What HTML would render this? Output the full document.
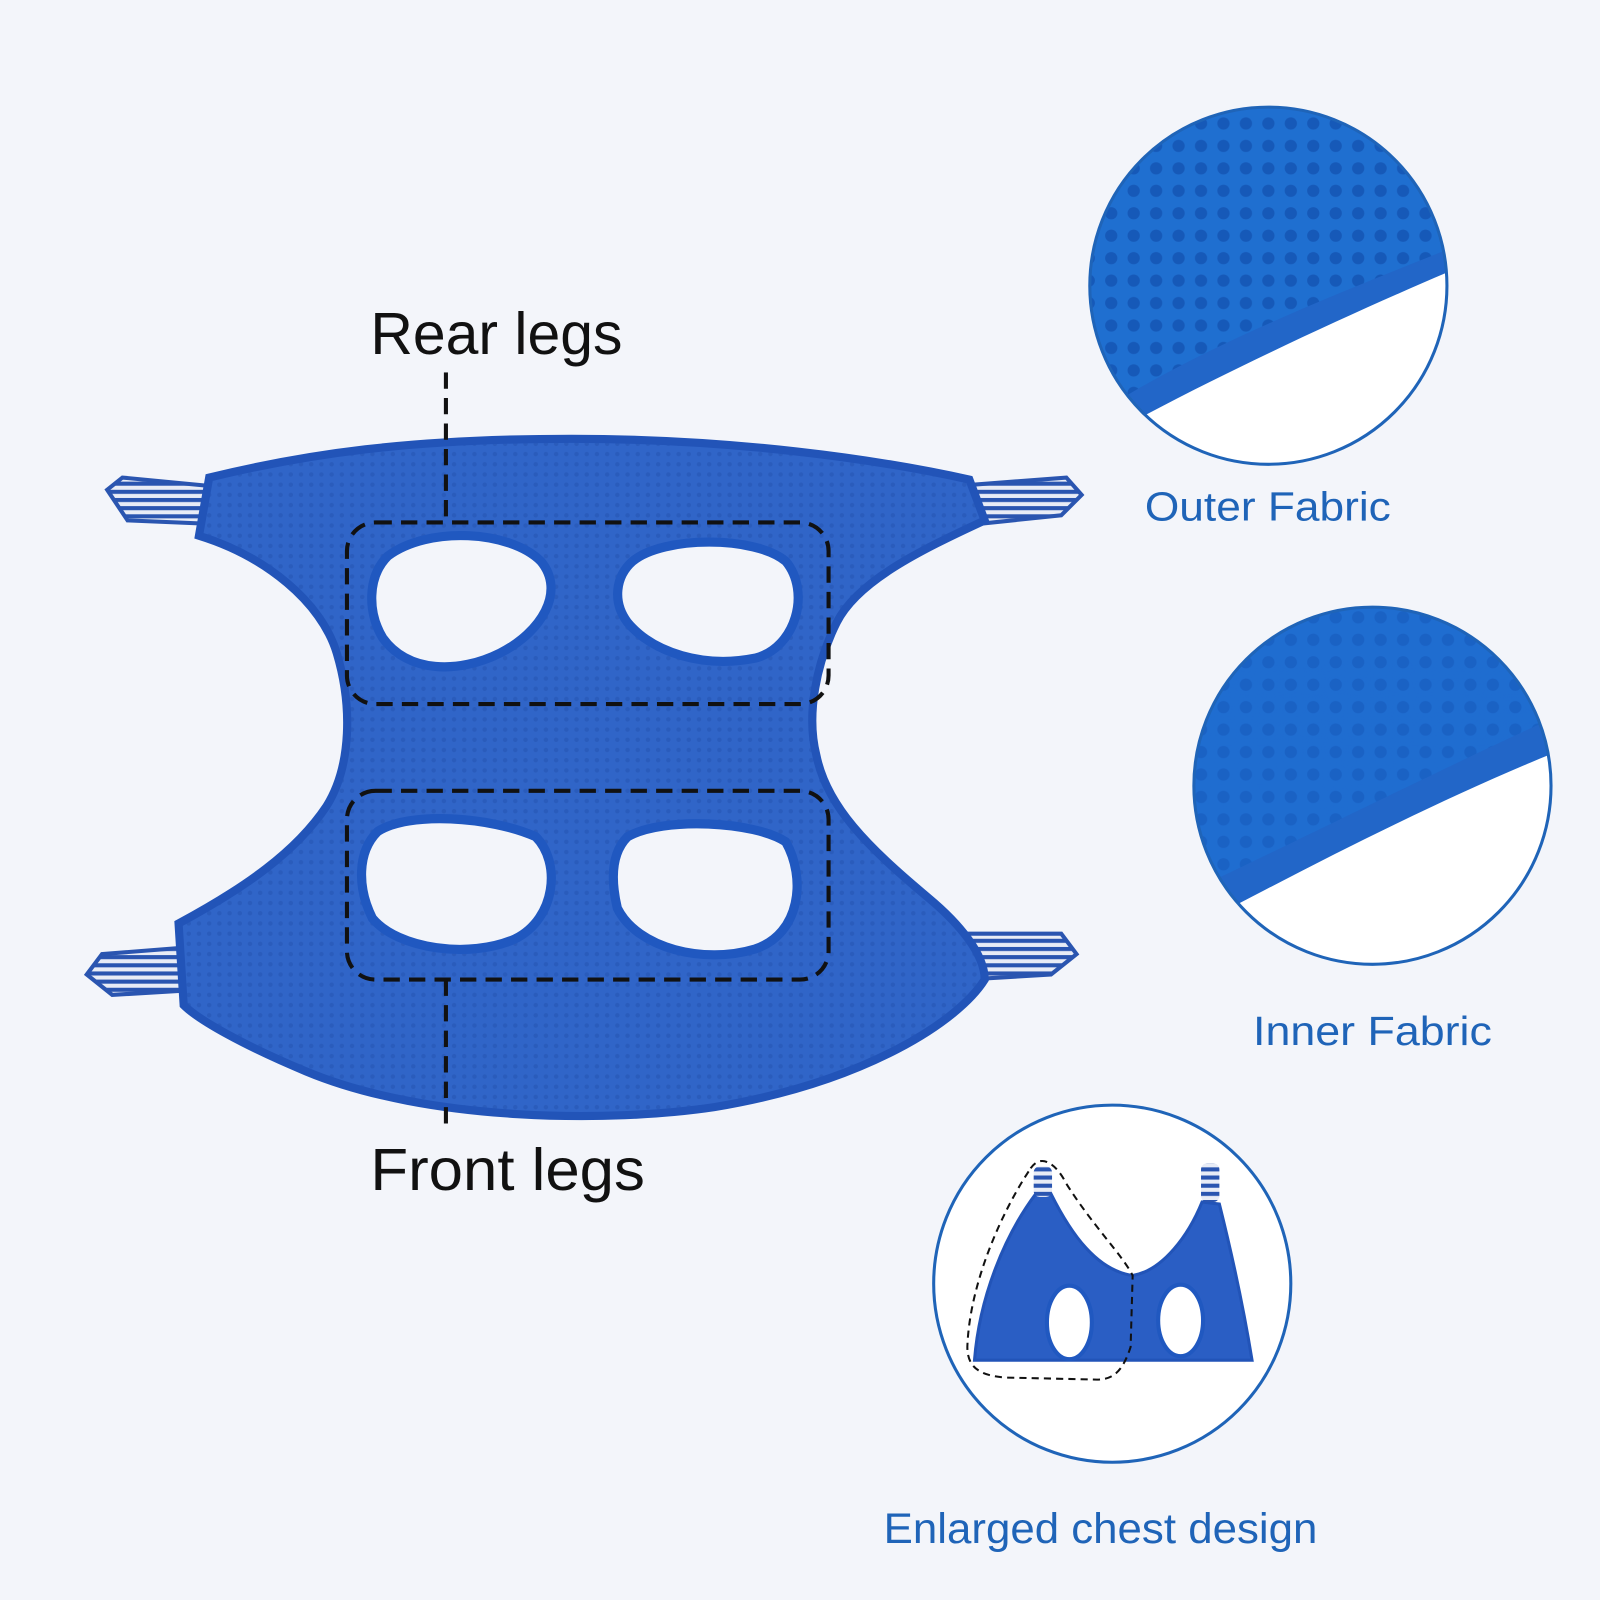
<!DOCTYPE html>
<html><head><meta charset="utf-8"><style>
html,body{margin:0;padding:0;background:#f3f5fa;}
svg{display:block;}
</style></head><body>
<svg width="1600" height="1600" viewBox="0 0 1568 1568" xmlns="http://www.w3.org/2000/svg">
<defs>
<pattern id="mesh" width="10" height="10" patternUnits="userSpaceOnUse">
<rect width="10" height="10" fill="#3065c8"/><circle cx="5" cy="5" r="2.2" fill="#2a5cbc"/>
</pattern>
<pattern id="mesh2" width="22" height="22" patternUnits="userSpaceOnUse">
<rect width="22" height="22" fill="#1f6fd0"/><circle cx="11" cy="11" r="6" fill="#1659b8"/>
</pattern>
<pattern id="stripe" width="8" height="8" patternUnits="userSpaceOnUse">
<rect width="8" height="8" fill="#e8ecf6"/><rect width="8" height="4" fill="#2a55b0"/>
</pattern>
<clipPath id="c1"><circle cx="1243" cy="280" r="175"/></clipPath>
<clipPath id="c2"><circle cx="1345" cy="770" r="175"/></clipPath>
</defs>
<rect width="1568" height="1568" fill="#f3f5fa"/>

<g>
<path d="M105 480 L120 468 L245 480 L245 515 L125 510 Z" fill="url(#stripe)" stroke="#2a55b0" stroke-width="4"/>
<path d="M1060 485 L1045 468 L915 478 L915 518 L1040 505 Z" fill="url(#stripe)" stroke="#2a55b0" stroke-width="4"/>
<path d="M85 955 L100 935 L228 925 L228 968 L110 975 Z" fill="url(#stripe)" stroke="#2a55b0" stroke-width="4"/>
<path d="M1055 935 L1040 915 L913 915 L913 962 L1030 955 Z" fill="url(#stripe)" stroke="#2a55b0" stroke-width="4"/>
</g>

<path d="M205 468 C300 445 400 430 560 430 C720 430 860 450 950 470 L965 510 C900 540 840 570 820 610 C800 650 790 700 800 740 C810 790 850 830 910 880 C940 905 965 935 965 960 C940 1000 850 1060 700 1085 C600 1100 420 1100 300 1050 C240 1025 195 1000 180 985 L175 905 C240 870 290 835 320 790 C345 750 345 690 330 640 C315 590 260 545 195 525 Z" fill="url(#mesh)" stroke="#2254b8" stroke-width="8"/>

<g fill="#f3f5fa" stroke="#2058c0" stroke-width="9">
<path d="M380 545 C420 515 500 520 530 550 C555 580 530 620 490 640 C450 660 400 660 375 625 C360 600 360 565 380 545 Z"/>
<path d="M620 550 C650 525 740 525 770 550 C795 580 780 635 740 645 C690 655 640 640 615 610 C600 590 603 565 620 550 Z"/>
<path d="M370 815 C400 795 480 800 525 820 C550 845 545 900 505 920 C460 940 390 930 365 900 C350 870 350 835 370 815 Z"/>
<path d="M615 820 C650 800 740 805 770 825 C790 860 785 915 740 930 C690 945 625 930 605 890 C598 860 600 835 615 820 Z"/>
</g>

<g fill="none" stroke="#111" stroke-width="4" stroke-dasharray="16 9">
<rect x="340" y="512" width="472" height="178" rx="28"/>
<rect x="340" y="775" width="472" height="185" rx="28"/>
<line x1="437" y1="365" x2="437" y2="512"/>
<line x1="437" y1="960" x2="437" y2="1110"/>
</g>
<g font-family="Liberation Sans, sans-serif" fill="#111">
<text x="363" y="347" font-size="58" textLength="247" lengthAdjust="spacingAndGlyphs">Rear legs</text>
<text x="363" y="1166" font-size="58" textLength="269" lengthAdjust="spacingAndGlyphs">Front legs</text>
</g>

<g clip-path="url(#c1)">
<rect x="1060" y="100" width="370" height="370" fill="url(#mesh2)"/>
<path d="M1100 390 C1200 330 1330 280 1430 240 L1430 470 L1060 470 Z" fill="#2266c8"/>
<path d="M1120 408 C1220 355 1340 300 1430 262 L1430 470 L1060 470 Z" fill="#fff"/>
</g>
<circle cx="1243" cy="280" r="175" fill="none" stroke="#1f64b8" stroke-width="3"/>
<text x="1122" y="510" font-family="Liberation Sans, sans-serif" font-size="40" fill="#1f64b8" textLength="241" lengthAdjust="spacingAndGlyphs">Outer Fabric</text>

<g clip-path="url(#c2)">
<rect x="1165" y="590" width="370" height="370" fill="#1e6ad0"/>
<rect x="1165" y="590" width="370" height="370" fill="url(#mesh2)" opacity="0.5"/>
<path d="M1195 860 C1300 810 1420 750 1530 700 L1530 960 L1165 960 Z" fill="#2266c8"/>
<path d="M1215 885 C1320 830 1430 775 1530 735 L1530 960 L1165 960 Z" fill="#fff"/>
</g>
<circle cx="1345" cy="770" r="175" fill="none" stroke="#1f64b8" stroke-width="3"/>
<text x="1228" y="1024" font-family="Liberation Sans, sans-serif" font-size="40" fill="#1f64b8" textLength="234" lengthAdjust="spacingAndGlyphs">Inner Fabric</text>

<circle cx="1090" cy="1258" r="175" fill="#fff" stroke="#1f64b8" stroke-width="3"/>
<path d="M955 1333 C960 1270 985 1210 1015 1170 L1030 1170 C1050 1210 1075 1245 1110 1250 C1140 1245 1165 1210 1178 1178 L1195 1180 C1210 1240 1220 1290 1227 1333 Z" fill="#2a5ec4" stroke="#2254b8" stroke-width="3"/>
<rect x="1013" y="1143" width="18" height="30" rx="6" fill="url(#stripe)"/>
<rect x="1177" y="1140" width="18" height="38" rx="6" fill="url(#stripe)"/>
<ellipse cx="1048" cy="1296" rx="22" ry="36" fill="#fff" stroke="#2058c0" stroke-width="4"/>
<ellipse cx="1157" cy="1294" rx="22" ry="35" fill="#fff" stroke="#2058c0" stroke-width="4"/>
<path d="M1010 1145 C1020 1130 1035 1140 1045 1160 C1070 1200 1100 1230 1110 1250 L1108 1320 C1100 1345 1090 1352 1075 1352 L985 1350 C960 1348 948 1340 948 1320 C950 1260 980 1190 1010 1145 Z" fill="none" stroke="#111" stroke-width="2" stroke-dasharray="7 5"/>
<text x="866" y="1512" font-family="Liberation Sans, sans-serif" font-size="42" fill="#1f64b8" textLength="425" lengthAdjust="spacingAndGlyphs">Enlarged chest design</text>
</svg>
</body></html>
